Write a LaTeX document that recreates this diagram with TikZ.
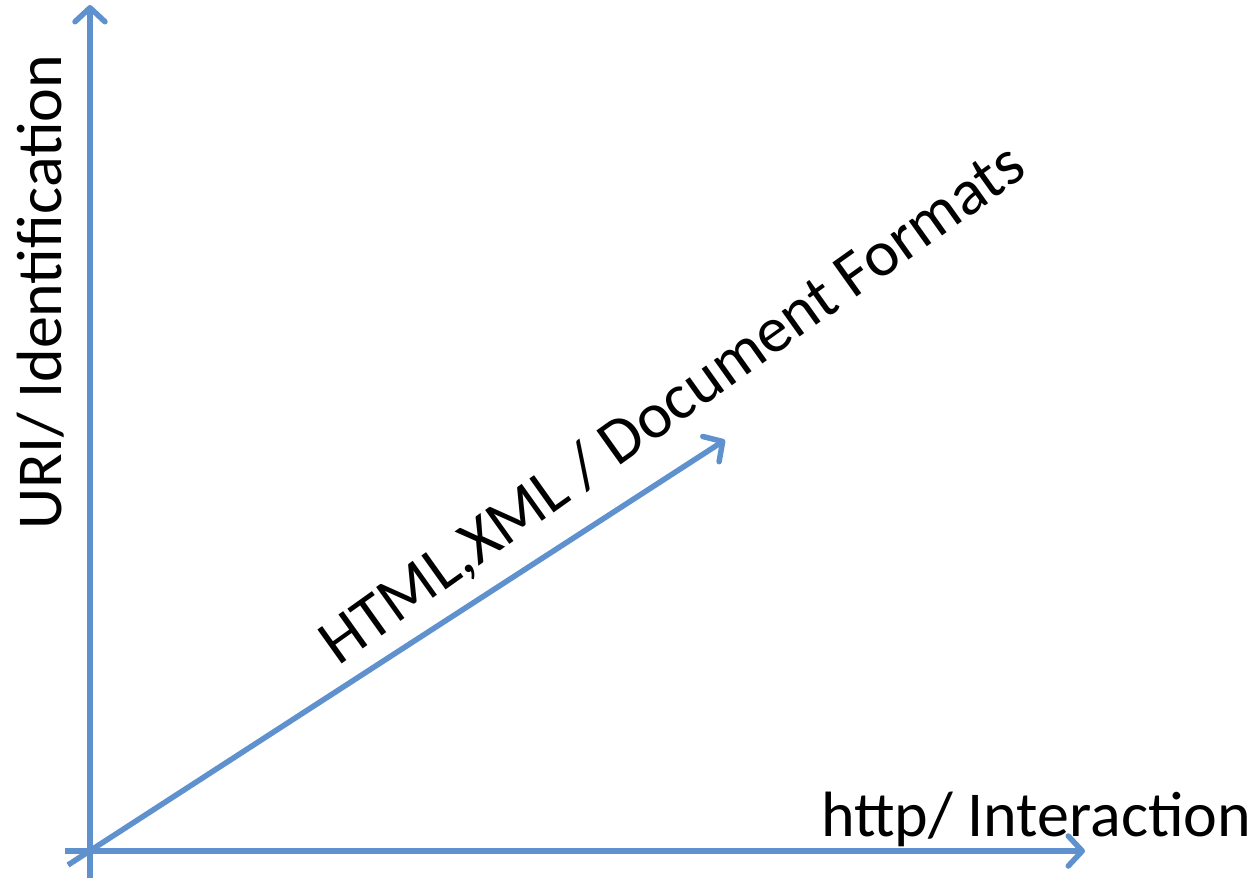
\documentclass[tikz,border=0pt]{standalone}
\usepackage{fontspec}
\setmainfont{Carlito}
\usetikzlibrary{arrows.meta}
\definecolor{axisblue}{RGB}{94,145,205}
\tikzset{
  axis/.style={draw=axisblue, line width=5.5pt, -{Straight Barb[length=14pt,width=30pt,round]}},
  lbl/.style={font=\fontsize{64}{70}\selectfont, inner sep=0pt, text=black}
}
\begin{document}
\begin{tikzpicture}[x=1pt,y=-1pt]
\useasboundingbox (0,0) rectangle (1254,880);
\coordinate (vS) at (90,878);
\coordinate (vE) at (90,5);
\coordinate (hS) at (65,851);
\coordinate (hE) at (1085,851);
\coordinate (dS) at (68,865);
\coordinate (dE) at (725,440);
\draw[axis] (vS) -- (vE);
\draw[axis] (hS) -- (hE);
\draw[axis] (dS) -- (dE);
\node[lbl, rotate=90, anchor=base west] (uri) at (61,530) {URI/ Identification};
\node[lbl, anchor=base west] (http) at (821,836) {http/ Interaction};
\node[lbl, font=\fontsize{65}{70}\selectfont, rotate=35.5, anchor=base west] (html) at (338,667) {HTML,XML / Document Formats};
\end{tikzpicture}
\end{document}
